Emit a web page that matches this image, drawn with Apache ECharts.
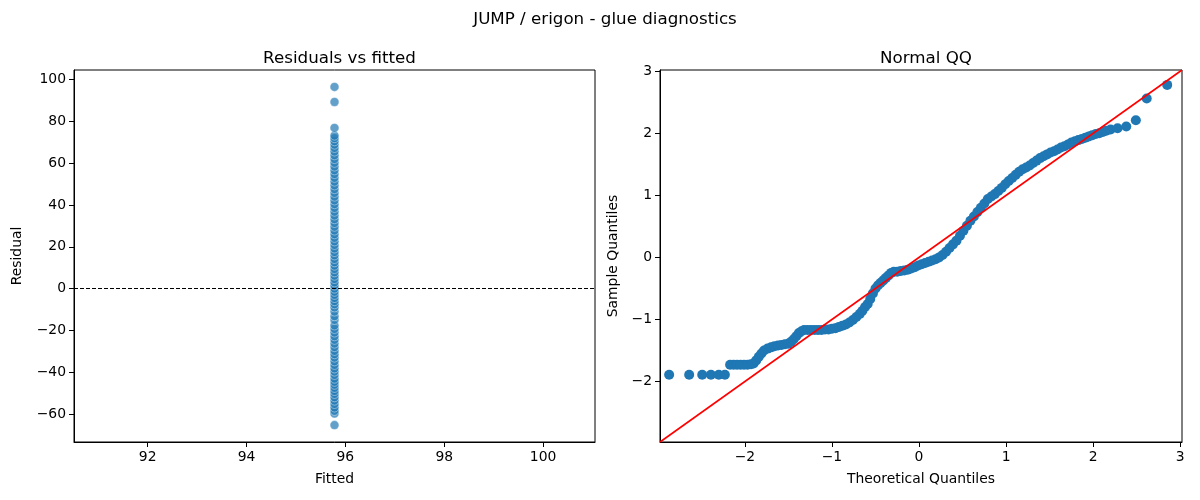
<!DOCTYPE html>
<html>
<head>
<meta charset="utf-8">
<script src="https://cdn.jsdelivr.net/npm/echarts@6/dist/echarts.min.js"></script>
<style>
  html, body { margin: 0; padding: 0; background: #fff; }
  #chart { width: 1200px; height: 500px; }
</style>
</head>
<body>
<div id="chart"></div>
<script>
// residuals vs fitted (intercept-only model, so fitted is one value)
const fittedValue = 95.78
const residuals = [
  -65.3, -59.8, -58.5, -56.9, -55.2, -53.6, -52.0, -50.4, -49.0, -47.5,
  -46.0, -44.6, -43.1, -41.3, -39.7, -38.2, -36.5, -34.8, -33.0, -31.4,
  -29.8, -28.0, -26.3, -24.5, -22.8, -21.0, -19.3, -17.6, -15.0, -13.2,
  -11.0, -9.0, -7.5, -6.0, -4.5, -3.0, -1.5, 0.0, 1.5, 3.0,
  4.6, 6.2, 7.8, 9.4, 11.0, 12.6, 14.2, 15.9, 17.5, 19.2,
  20.9, 22.6, 24.3, 26.0, 27.8, 29.6, 31.4, 33.2, 35.0, 36.8,
  38.6, 40.4, 42.2, 44.0, 45.8, 47.6, 49.4, 51.2, 53.0, 54.8,
  56.6, 58.4, 60.2, 62.0, 63.8, 65.6, 67.3, 68.9, 70.5, 72.0,
  73.2, 76.9, 89.3, 96.5
]
const fittedTicks = [92, 94, 96, 98, 100]
const residualTicks = [-60, -40, -20, 0, 20, 40, 60, 80, 100]

// normal QQ: theoretical quantile / sample quantile pairs
const qqTheoretical = [
  -2.87, -2.64, -2.49, -2.39, -2.30, -2.23,
  -2.17, -2.13, -2.09, -2.05, -2.01, -1.97, -1.93, -1.90,
  -1.87, -1.84, -1.81, -1.78, -1.74, -1.70, -1.66, -1.62, -1.58, -1.54,
  -1.50, -1.47, -1.44, -1.41, -1.38, -1.35,
  -1.32, -1.28, -1.24, -1.20, -1.16, -1.12, -1.08, -1.04,
  -1.00, -0.96, -0.92, -0.88, -0.84, -0.80, -0.76, -0.72, -0.68, -0.65,
  -0.62, -0.59, -0.56, -0.53, -0.50, -0.47, -0.44, -0.41, -0.38, -0.35, -0.32,
  -0.29, -0.25, -0.21, -0.17, -0.13, -0.09,
  -0.05, -0.01, 0.03, 0.07, 0.11, 0.15, 0.19, 0.23, 0.27, 0.31,
  0.35, 0.39, 0.43, 0.47, 0.51, 0.55, 0.59, 0.63, 0.67, 0.71,
  0.75, 0.79, 0.83, 0.87, 0.91, 0.95, 0.99, 1.03, 1.07, 1.11,
  1.15, 1.19, 1.23, 1.27, 1.31, 1.35, 1.39, 1.43, 1.47, 1.51,
  1.55, 1.59, 1.63, 1.67, 1.71, 1.75, 1.79, 1.83, 1.87, 1.91,
  1.95, 1.99, 2.03, 2.07, 2.11, 2.15, 2.20, 2.28, 2.38, 2.49,
  2.615, 2.85
]
const qqSample = [
  -1.89, -1.89, -1.89, -1.89, -1.89, -1.89,
  -1.73, -1.73, -1.73, -1.73, -1.73, -1.73, -1.72, -1.71,
  -1.66, -1.60, -1.55, -1.50, -1.47, -1.45, -1.43, -1.42, -1.41, -1.40,
  -1.39, -1.36, -1.32, -1.27, -1.22, -1.19,
  -1.17, -1.17, -1.17, -1.17, -1.17, -1.17, -1.16, -1.16,
  -1.15, -1.14, -1.12, -1.10, -1.08, -1.05, -1.01, -0.96, -0.91, -0.86,
  -0.80, -0.75, -0.67, -0.58, -0.50, -0.45, -0.41, -0.37, -0.33, -0.29, -0.25,
  -0.23, -0.23, -0.22, -0.21, -0.20, -0.18,
  -0.16, -0.13, -0.11, -0.09, -0.07, -0.05, -0.03, 0.00, 0.04, 0.09,
  0.15, 0.21, 0.27, 0.35, 0.43, 0.51, 0.59, 0.66, 0.73, 0.80,
  0.87, 0.94, 0.98, 1.02, 1.07, 1.12, 1.18, 1.23, 1.28, 1.33,
  1.38, 1.42, 1.45, 1.48, 1.52, 1.56, 1.60, 1.63, 1.66, 1.69,
  1.71, 1.74, 1.77, 1.79, 1.82, 1.85, 1.87, 1.89, 1.91, 1.93,
  1.95, 1.97, 1.99, 2.00, 2.02, 2.04, 2.06, 2.08, 2.11, 2.21,
  2.56, 2.78
]
const qqTicks = [-2, -1, 0, 1, 2, 3]
// both QQ axes share these limits; the 45 degree line spans them
const qqMin = -2.975
const qqMax = 3.02

const chart = echarts.init(document.getElementById('chart'))

const FONT = 'DejaVu Sans'
const minus = v => String(v).replace('-', '\u2212')

// common axis styling, matplotlib-ish
function axisStyle(ticks) {
  return {
    axisLine: { show: true, onZero: false, lineStyle: { color: '#000', width: 1 } },
    axisTick: { show: true, inside: false, length: 5, customValues: ticks, lineStyle: { color: '#000', width: 1 } },
    axisLabel: { customValues: ticks, formatter: minus, color: '#000', fontSize: 13.9, fontFamily: FONT, margin: 8 },
    splitLine: { show: false },
    nameTextStyle: { color: '#000', fontSize: 13.9, fontFamily: FONT },
    nameLocation: 'middle'
  }
}

const option = {
  animation: false,
  backgroundColor: '#fff',
  textStyle: { fontFamily: FONT },
  title: [
    { text: 'JUMP / erigon - glue diagnostics', left: 600, top: 6, textAlign: 'center',
      textStyle: { fontSize: 16.7, fontWeight: 'normal', color: '#000', fontFamily: FONT } },
    { text: 'Residuals vs fitted', left: 334.5, top: 45, textAlign: 'center',
      textStyle: { fontSize: 16.7, fontWeight: 'normal', color: '#000', fontFamily: FONT } },
    { text: 'Normal QQ', left: 921, top: 45, textAlign: 'center',
      textStyle: { fontSize: 16.7, fontWeight: 'normal', color: '#000', fontFamily: FONT } }
  ],
  grid: [
    { left: 74, top: 70, width: 521, height: 372, show: true, borderColor: '#000', borderWidth: 1, containLabel: false },
    { left: 660, top: 70, width: 522, height: 372, show: true, borderColor: '#000', borderWidth: 1, containLabel: false }
  ],
  xAxis: [
    Object.assign(axisStyle(fittedTicks), {
      type: 'value', gridIndex: 0, min: 90.51, max: 101.05, name: 'Fitted', nameGap: 30
    }),
    Object.assign(axisStyle(qqTicks), {
      type: 'value', gridIndex: 1, min: qqMin, max: qqMax, name: 'Theoretical Quantiles', nameGap: 30
    })
  ],
  yAxis: [
    Object.assign(axisStyle(residualTicks), {
      type: 'value', gridIndex: 0, min: -73.4, max: 104.6, name: 'Residual', nameGap: 50
    }),
    Object.assign(axisStyle(qqTicks), {
      type: 'value', gridIndex: 1, min: qqMin, max: qqMax, name: 'Sample Quantiles', nameGap: 40
    })
  ],
  series: [
    {
      type: 'scatter',
      xAxisIndex: 0,
      yAxisIndex: 0,
      symbolSize: 9,
      data: residuals.map(r => [fittedValue, r]),
      itemStyle: { color: '#1f77b4', opacity: 0.7, borderColor: '#fff', borderWidth: 0.6 },
      markLine: {
        silent: true,
        symbol: 'none',
        label: { show: false },
        lineStyle: { color: '#000', width: 1, type: [4, 2] },
        data: [{ yAxis: 0 }]
      },
      z: 2
    },
    {
      type: 'scatter',
      xAxisIndex: 1,
      yAxisIndex: 1,
      symbolSize: 10,
      data: qqTheoretical.map((t, i) => [t, qqSample[i]]),
      itemStyle: { color: '#1f77b4', opacity: 1 },
      z: 2
    },
    {
      // 45 degree reference line
      type: 'line',
      xAxisIndex: 1,
      yAxisIndex: 1,
      symbol: 'none',
      data: [[qqMin, qqMin], [qqMax, qqMax]],
      lineStyle: { color: '#ff0000', width: 1.6 },
      z: 3
    }
  ]
}

chart.setOption(option)
</script>
</body>
</html>
